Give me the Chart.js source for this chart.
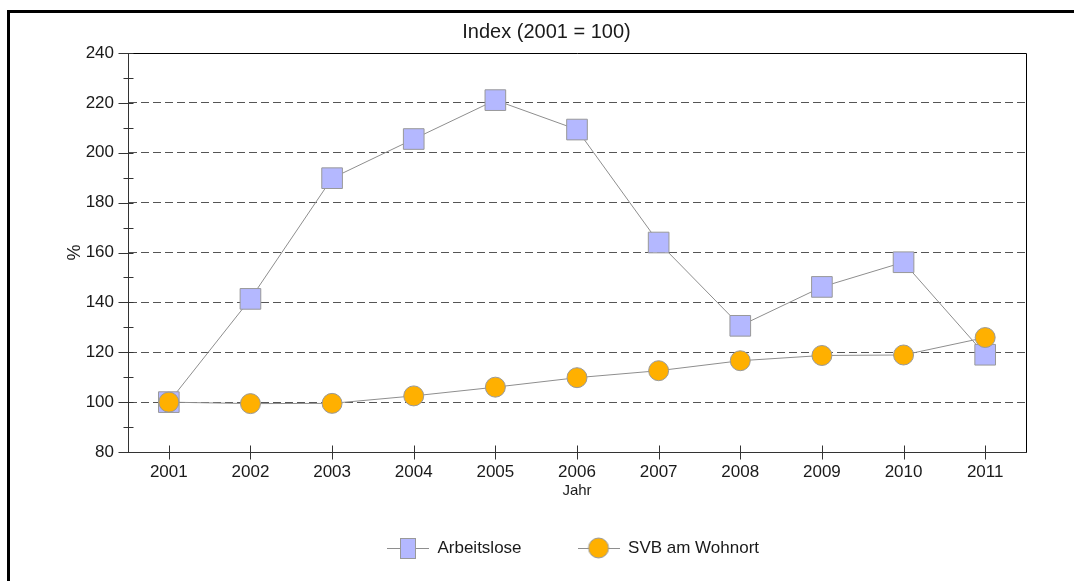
<!DOCTYPE html>
<html>
<head>
<meta charset="utf-8">
<script src="https://cdn.jsdelivr.net/npm/chart.js@4.4.1/dist/chart.umd.min.js"></script>
<style>
  html, body { margin: 0; padding: 0; background: #fff; overflow: hidden; }
  #wrap { position: relative; width: 1074px; height: 581px; }
  #frame {
    position: absolute; left: 7px; top: 10px; width: 1200px; height: 700px;
    border-left: 3px solid #000; border-top: 3px solid #000; pointer-events: none;
  }
  canvas { position: absolute; left: 0; top: 0; }
</style>
</head>
<body>
<div id="wrap">
  <canvas id="chart" width="1074" height="581"></canvas>
  <div id="frame"></div>
</div>
<script>
// Index (2001 = 100): Arbeitslose vs. SVB am Wohnort

const years       = ["2001", "2002", "2003", "2004", "2005", "2006", "2007", "2008", "2009", "2010", "2011"];
const arbeitslose = [100, 141.4, 189.8, 205.5, 221.1, 209.3, 164, 130.6, 146.2, 156.1, 119];
const svbWohnort  = [100, 99.4, 99.5, 102.5, 106, 109.8, 112.6, 116.6, 118.7, 118.9, 125.9];
const yTicks      = [80, 100, 120, 140, 160, 180, 200, 220, 240];

const FONT = "'Liberation Sans', Arial, sans-serif";
const LINE_GREY = "#8e8e8e";
const TEXT = "#1a1a1a";

// legend icons: short line with the marker on top
function legendIcon(kind) {
  const c = document.createElement("canvas");
  c.width = 42;
  c.height = 22;
  const g = c.getContext("2d");
  g.strokeStyle = LINE_GREY;
  g.lineWidth = 1;
  g.beginPath();
  g.moveTo(0, 11.5);
  g.lineTo(42, 11.5);
  g.stroke();
  if (kind === "square") {
    g.fillStyle = "#b4b8ff";
    g.fillRect(13.5, 1.5, 15, 20);
    g.strokeStyle = "#999";
    g.strokeRect(13.5, 1.5, 15, 20);
  } else {
    g.fillStyle = "#ffb000";
    g.beginPath();
    g.arc(21, 11, 10, 0, Math.PI * 2);
    g.fill();
    g.strokeStyle = "#999";
    g.stroke();
  }
  return c;
}
const icons = [legendIcon("square"), legendIcon("circle")];

// frame, tick marks crossing the axes, minor ticks on y
const axisMarks = {
  id: "axisMarks",
  afterLayout(chart) {
    // centre legend on the plot area, title on the outer frame
    const a = chart.chartArea;
    chart.legend.left = a.left - 4;
    chart.legend.right = a.right - 4;
    chart.titleBlock.left = 19;
    chart.titleBlock.right = 1074;
  },
  beforeDatasetsDraw(chart) {
    const { ctx, chartArea: a, scales: { x, y } } = chart;
    ctx.save();
    ctx.strokeStyle = "#000";
    ctx.lineWidth = 1;
    ctx.beginPath();
    ctx.moveTo(a.left, Math.round(a.top) + 0.5);
    ctx.lineTo(Math.round(a.right) + 0.5, Math.round(a.top) + 0.5);
    ctx.lineTo(Math.round(a.right) + 0.5, a.bottom);
    ctx.stroke();

    ctx.strokeStyle = "#333";
    ctx.beginPath();
    const ax = Math.round(a.left) + 0.5;
    y.ticks.forEach((t, i) => {
      const py = Math.round(y.getPixelForValue(t.value)) + 0.5;
      ctx.moveTo(ax - 10, py);
      ctx.lineTo(ax + 5, py);
      if (i < y.ticks.length - 1) {
        const mid = (t.value + y.ticks[i + 1].value) / 2;
        const pm = Math.round(y.getPixelForValue(mid)) + 0.5;
        ctx.moveTo(ax - 5, pm);
        ctx.lineTo(ax + 5, pm);
      }
    });
    const by = Math.round(a.bottom) + 0.5;
    x.ticks.forEach((t, i) => {
      const px = Math.round(x.getPixelForTick(i)) + 0.5;
      ctx.moveTo(px, by - 7);
      ctx.lineTo(px, by + 7);
    });
    ctx.stroke();
    ctx.restore();
  },
};

new Chart(document.getElementById("chart"), {
  type: "line",
  data: {
    labels: years,
    datasets: [
      {
        label: "Arbeitslose",
        data: arbeitslose,
        order: 1,
        borderColor: LINE_GREY,
        borderWidth: 1,
        pointStyle: "rect",
        pointRadius: 14.6,
        pointBackgroundColor: "#b4b8ff",
        pointBorderColor: "#999",
        pointBorderWidth: 1,
        tension: 0,
      },
      {
        label: "SVB am Wohnort",
        data: svbWohnort,
        order: 0,
        borderColor: LINE_GREY,
        borderWidth: 1,
        pointStyle: "circle",
        pointRadius: 10,
        pointBackgroundColor: "#ffb000",
        pointBorderColor: "#999",
        pointBorderWidth: 1,
        tension: 0,
      },
    ],
  },
  options: {
    responsive: false,
    animation: false,
    layout: { padding: { left: 0, right: 48, top: 0, bottom: 14.5 } },
    plugins: {
      title: {
        display: true,
        text: "Index (2001 = 100)",
        color: TEXT,
        font: { family: FONT, size: 20, weight: "normal", lineHeight: 1.2 },
        padding: { top: 20, bottom: 9 },
      },
      legend: {
        position: "bottom",
        labels: {
          usePointStyle: true,
          pointStyleWidth: 42,
          padding: 56,
          color: TEXT,
          font: { family: FONT, size: 17 },
          sort: (a, b) => a.datasetIndex - b.datasetIndex,
          generateLabels(chart) {
            const items = Chart.defaults.plugins.legend.labels.generateLabels(chart);
            items.forEach((it) => { it.pointStyle = icons[it.datasetIndex]; });
            return items;
          },
        },
      },
      tooltip: { enabled: false },
    },
    scales: {
      x: {
        offset: true,
        grid: { display: true, drawOnChartArea: false, drawTicks: false, offset: false },
        border: { display: true, color: "#333", width: 1 },
        ticks: { color: TEXT, padding: 10, font: { family: FONT, size: 17 }, maxRotation: 0 },
        title: {
          display: true,
          text: "Jahr",
          color: TEXT,
          font: { family: FONT, size: 15 },
          padding: { top: 0, bottom: -16 },
        },
        afterFit: (s) => { s.height = 31.5; },
      },
      y: {
        min: 80,
        max: 240,
        afterBuildTicks: (s) => { s.ticks = yTicks.map((v) => ({ value: v })); },
        grid: {
          drawTicks: false,
          color: (ctx) => (ctx.tick && (ctx.tick.value === 80 || ctx.tick.value === 240) ? "transparent" : "#555"),
        },
        border: { display: true, color: "#333", width: 1, dash: [8, 4] },
        ticks: { color: TEXT, padding: 14, font: { family: FONT, size: 17 } },
        title: {
          display: true,
          text: "%",
          color: TEXT,
          font: { family: FONT, size: 18 },
          padding: { top: 64, bottom: 0 },
        },
        afterFit: (s) => { s.width = 128; },
      },
    },
  },
  plugins: [axisMarks],
});
</script>
</body>
</html>
